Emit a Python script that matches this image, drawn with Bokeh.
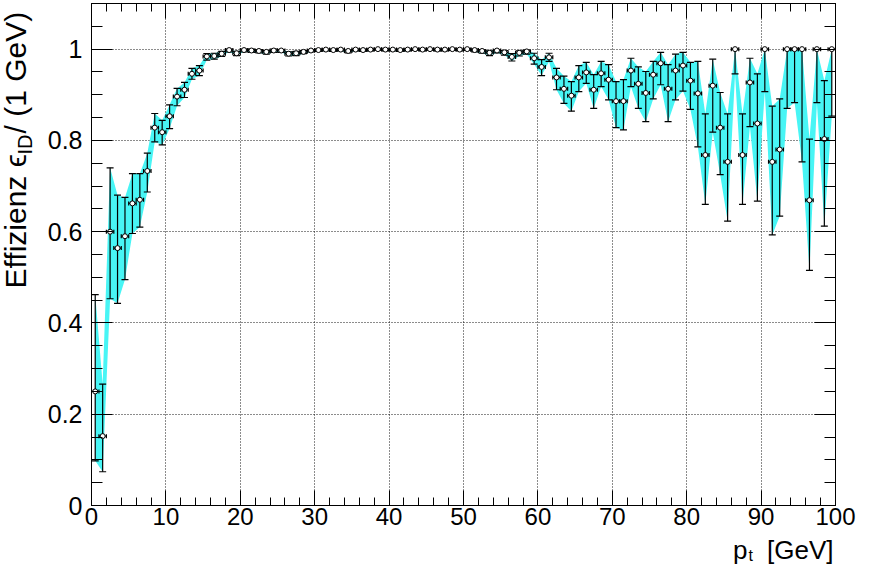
import numpy as np
from bokeh.plotting import figure
from bokeh.layouts import row, column
from bokeh.models import (ColumnDataSource, Range1d, FixedTicker, LinearAxis,
                          Label, NumeralTickFormatter)
from bokeh.embed import file_html
from bokeh.resources import INLINE

# ---- data: bin centres of p_t [GeV] (1 GeV bins) ----
pt = [0.5, 1.5, 2.5, 3.5, 4.5, 5.5, 6.5, 7.5, 8.5, 9.5,
      10.5, 11.5, 12.5, 13.5, 14.5, 15.5, 16.5, 17.5, 18.5, 19.5,
      20.5, 21.5, 22.5, 23.5, 24.5, 25.5, 26.5, 27.5, 28.5, 29.5,
      30.5, 31.5, 32.5, 33.5, 34.5, 35.5, 36.5, 37.5, 38.5, 39.5,
      40.5, 41.5, 42.5, 43.5, 44.5, 45.5, 46.5, 47.5, 48.5, 49.5,
      50.5, 51.5, 52.5, 53.5, 54.5, 55.5, 56.5, 57.5, 58.5, 59.5,
      60.5, 61.5, 62.5, 63.5, 64.5, 65.5, 66.5, 67.5, 68.5, 69.5,
      70.5, 71.5, 72.5, 73.5, 74.5, 75.5, 76.5, 77.5, 78.5, 79.5,
      80.5, 81.5, 82.5, 83.5, 84.5, 85.5, 86.5, 87.5, 88.5, 89.5,
      90.5, 91.5, 92.5, 93.5, 94.5, 95.5, 96.5, 97.5, 98.5, 99.5]

eff = [0.250, 0.152, 0.600, 0.564, 0.590, 0.662, 0.670, 0.733, 0.828, 0.818,
       0.853, 0.896, 0.911, 0.946, 0.953, 0.984, 0.985, 0.990, 0.998, 0.991,
       0.998, 0.997, 0.996, 0.994, 0.997, 0.997, 0.990, 0.991, 0.994, 0.997,
       0.998, 0.999, 0.998, 0.999, 0.996, 0.999, 0.998, 0.999, 1.000, 0.999,
       0.999, 0.998, 0.999, 1.000, 0.999, 1.000, 0.999, 0.999, 1.000, 0.999,
       1.000, 0.998, 0.996, 0.992, 0.997, 0.993, 0.983, 0.992, 0.995, 0.980,
       0.961, 0.982, 0.938, 0.913, 0.898, 0.938, 0.949, 0.911, 0.947, 0.933,
       0.886, 0.886, 0.953, 0.924, 0.904, 0.944, 0.969, 0.913, 0.953, 0.964,
       0.931, 0.903, 0.768, 0.920, 0.828, 0.753, 1.000, 0.768, 0.927, 0.837,
       1.000, 0.753, 0.780, 1.000, 1.000, 1.000, 0.669, 1.000, 0.803, 1.000]

eff_lo = [0.098, 0.074, 0.453, 0.443, 0.495, 0.596, 0.610, 0.687, 0.797, 0.790,
          0.826, 0.876, 0.894, 0.934, 0.942, 0.976, 0.978, 0.984, 0.994, 0.986,
          0.994, 0.993, 0.992, 0.989, 0.993, 0.993, 0.985, 0.986, 0.990, 0.994,
          0.995, 0.996, 0.995, 0.996, 0.992, 0.996, 0.995, 0.996, 0.997, 0.996,
          0.996, 0.995, 0.996, 0.997, 0.996, 0.997, 0.996, 0.996, 0.997, 0.996,
          0.997, 0.994, 0.991, 0.986, 0.992, 0.987, 0.974, 0.985, 0.989, 0.967,
          0.942, 0.973, 0.911, 0.881, 0.864, 0.907, 0.925, 0.870, 0.918, 0.889,
          0.828, 0.823, 0.918, 0.870, 0.841, 0.891, 0.922, 0.841, 0.889, 0.908,
          0.868, 0.786, 0.660, 0.818, 0.725, 0.623, 0.946, 0.660, 0.830, 0.667,
          0.907, 0.593, 0.634, 0.870, 0.883, 0.753, 0.515, 0.883, 0.612, 0.853]

eff_hi = [0.462, 0.266, 0.740, 0.680, 0.675, 0.727, 0.727, 0.772, 0.859, 0.844,
          0.878, 0.914, 0.927, 0.958, 0.964, 0.990, 0.991, 0.995, 1.000, 0.995,
          1.000, 1.000, 0.999, 0.997, 1.000, 0.999, 0.994, 0.995, 0.997, 0.999,
          1.000, 1.000, 1.000, 1.000, 0.998, 1.000, 1.000, 1.000, 1.000, 1.000,
          1.000, 1.000, 1.000, 1.000, 1.000, 1.000, 1.000, 1.000, 1.000, 1.000,
          1.000, 1.000, 0.999, 0.996, 0.999, 0.997, 0.990, 0.996, 0.998, 0.991,
          0.977, 0.991, 0.958, 0.941, 0.929, 0.964, 0.971, 0.944, 0.973, 0.966,
          0.929, 0.933, 0.980, 0.961, 0.951, 0.973, 0.993, 0.966, 0.989, 0.993,
          0.971, 0.973, 0.858, 0.978, 0.905, 0.858, 1.000, 0.858, 0.980, 0.946,
          1.000, 0.875, 0.891, 1.000, 1.000, 1.000, 0.803, 1.000, 0.931, 1.000]

bin_half_width = 0.5

x_major_ticks = [0, 10, 20, 30, 40, 50, 60, 70, 80, 90, 100]
x_minor_ticks = [0, 2, 4, 6, 8, 10, 12, 14, 16, 18, 20, 22, 24, 26, 28, 30, 32, 34, 36, 38,
                 40, 42, 44, 46, 48, 50, 52, 54, 56, 58, 60, 62, 64, 66, 68, 70, 72, 74, 76,
                 78, 80, 82, 84, 86, 88, 90, 92, 94, 96, 98, 100]
y_major_ticks = [0, 0.2, 0.4, 0.6, 0.8, 1.0]
y_minor_ticks = [0, 0.05, 0.1, 0.15, 0.2, 0.25, 0.3, 0.35, 0.4, 0.45, 0.5, 0.55, 0.6,
                 0.65, 0.7, 0.75, 0.8, 0.85, 0.9, 0.95, 1.0, 1.05]

# ---- geometry (pixels) ----
BL, BR, BT, BB = 51, 21, 3, 29          # borders of main plot
MAIN_W, MAIN_H = 816, 534
FRAME_W = MAIN_W - BL - BR               # 744
FRAME_H = MAIN_H - BT - BB               # 502
YT_W = 40
XT_H = 30
TOTAL_H = MAIN_H + XT_H                  # 564

# ---- source ----
pt_a = np.array(pt)
src = ColumnDataSource(dict(
    pt=pt_a, eff=np.array(eff), lo=np.array(eff_lo), hi=np.array(eff_hi),
    xl=pt_a - bin_half_width, xr=pt_a + bin_half_width,
))

p = figure(width=MAIN_W, height=MAIN_H, x_range=Range1d(0, 100), y_range=Range1d(0, 1.1),
           output_backend="svg", toolbar_location=None,
           min_border_left=BL, min_border_right=BR, min_border_top=BT,
           min_border_bottom=BB)
p.background_fill_color = "white"
p.border_fill_color = "white"
p.outline_line_color = "black"
p.outline_line_width = 1

# band
p.varea(x="pt", y1="lo", y2="hi", source=src, fill_color="#48f5f5", fill_alpha=1.0)

# error bars
p.segment(x0="pt", y0="lo", x1="pt", y1="hi", source=src, line_color="black", line_width=1.2)
p.segment(x0="xl", y0="eff", x1="xr", y1="eff", source=src, line_color="black", line_width=1.2)
p.scatter(x="pt", y="lo", source=src, marker="dash", size=7, line_color="black", line_width=1.2)
p.scatter(x="pt", y="hi", source=src, marker="dash", size=7, line_color="black", line_width=1.2)
p.scatter(x="xl", y="eff", source=src, marker="dash", angle=np.pi / 2, size=4,
          line_color="black", line_width=1.2)
p.scatter(x="xr", y="eff", source=src, marker="dash", angle=np.pi / 2, size=4,
          line_color="black", line_width=1.2)
# markers
p.scatter(x="pt", y="eff", source=src, marker="circle", size=5, line_color="black",
          fill_color="white", line_width=1)

# ---- axes ----
xt = FixedTicker(ticks=x_major_ticks, minor_ticks=x_minor_ticks)
yt = FixedTicker(ticks=y_major_ticks, minor_ticks=y_minor_ticks)

xa = p.xaxis[0]
xa.ticker = xt
ya = p.yaxis[0]
ya.ticker = yt
ya.formatter = NumeralTickFormatter(format="0.[0]")

for ax, mj, mn, so, fs in [(xa, 15, 8, 2, "24px"), (ya, 21, 11, 9, "25px")]:
    ax.major_tick_in = mj
    ax.major_tick_out = 0
    ax.minor_tick_in = mn
    ax.minor_tick_out = 0
    ax.axis_line_color = "black"
    ax.major_tick_line_color = "black"
    ax.minor_tick_line_color = "black"
    ax.major_label_text_font = "Liberation Sans"
    ax.major_label_text_font_size = fs
    ax.major_label_text_color = "black"
    ax.major_label_standoff = so

ra = LinearAxis(ticker=yt, major_tick_in=21, major_tick_out=0, minor_tick_in=11,
                minor_tick_out=0, axis_line_color="black",
                major_label_overrides={t: "" for t in y_major_ticks})
p.add_layout(ra, "right")
ta = LinearAxis(ticker=xt, major_tick_in=15, major_tick_out=0, minor_tick_in=8,
                minor_tick_out=0, axis_line_color="black",
                major_label_overrides={t: "" for t in x_major_ticks})
p.add_layout(ta, "above")

# grid
for g in (p.xgrid[0], p.ygrid[0]):
    g.grid_line_color = "black"
    g.grid_line_dash = "1 2"
    g.grid_line_width = 1
    g.grid_line_alpha = 0.9
p.xgrid[0].ticker = xt
p.ygrid[0].ticker = yt


def text_panel(w, h, bl=0, br=0, bt=0, bb=0):
    f = figure(width=w, height=h, x_range=Range1d(0, w - bl - br),
               y_range=Range1d(0, h - bt - bb),
               output_backend="svg", toolbar_location=None,
               x_axis_location=None, y_axis_location=None,
               min_border_left=bl, min_border_right=br, min_border_top=bt,
               min_border_bottom=bb)
    f.outline_line_color = None
    f.background_fill_color = "white"
    f.border_fill_color = "white"
    f.xgrid.visible = False
    f.ygrid.visible = False
    return f


TF = "Liberation Sans"
common = dict(text_font=TF, text_color="black", text_baseline="middle")

# ---- y-axis title (left strip); local y measured up from the frame bottom ----
fy = text_panel(YT_W, TOTAL_H, bt=BT, bb=TOTAL_H - BT - FRAME_H)
fy.add_layout(Label(x=14.6, y=217, text="Effizienz \u03f5", angle=np.pi / 2,
                    text_font_size="30px", text_align="left", **common))
fy.add_layout(Label(x=24.1, y=351, text="ID", angle=np.pi / 2,
                    text_font_size="20px", text_align="left", **common))
fy.add_layout(Label(x=14.6, y=372, text="/ (1 GeV)", angle=np.pi / 2,
                    text_font_size="30px", text_align="left", **common))

# ---- x-axis title (bottom strip); local x measured from the frame left ----
fx = text_panel(MAIN_W, XT_H, bl=BL, br=BR)
fx.add_layout(Label(x=742, y=15, text="[GeV]", text_font_size="26px",
                    text_align="right", **common))
fx.add_layout(Label(x=656, y=15, text="p", text_font_size="26px",
                    text_align="right", **common))
fx.add_layout(Label(x=657, y=9.5, text="t", text_font_size="16px",
                    text_align="left", **common))

layout = row(fy, column(p, fx, spacing=0), spacing=0)

open("out.html", "w").write(file_html(layout, INLINE))
